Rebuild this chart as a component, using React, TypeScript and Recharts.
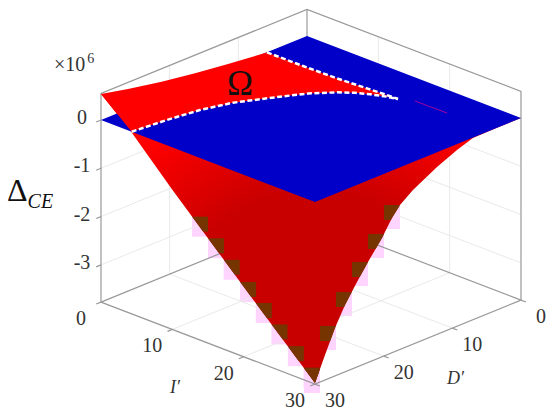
import React from 'react';
import { ScatterChart, Scatter, XAxis, YAxis } from 'recharts';

const W = 550;
const H = 417;

// axis values
const iTicks = [0, 10, 20, 30];
const dTicks = [0, 10, 20, 30];
const zTicks = [0, -1, -2, -3];
const zFloor = -3.77;
const zTop = 0.55;

// red surface along I'=0, from D'=30 to where it meets the plane
const backEdgeD = [30, 26.07, 21.16, 16.31, 11.5, 5.87];
const backEdgeZ = [0.54, 0.414, 0.28, 0.174, 0.087, 0];

// red surface along D'=30
const leftEdgeI = [0, 4.2, 10, 20, 30];
const leftEdgeZ = [0.54, 0, -0.88, -2.32, -3.75];

// red surface along I'=30
const rightEdgeD = [30, 29.27, 28.54, 27.09, 25.63, 23.88, 22.28, 20.24, 18.79, 17.62, 15.73, 12.23, 9.32, 7, 3.5, 0];
const rightEdgeZ = [-3.75, -3.5, -3.25, -2.78, -2.385, -2.01, -1.69, -1.31, -0.98, -0.78, -0.58, -0.306, -0.122, -0.01, 0, 0];

// boundary of the region where the surface is above the plane (dashed lines)
const upperBoundI = [0, 5.03, 9.65, 13.82, 16.22, 17.74];
const upperBoundD = [5.84, 5.81, 5.69, 5.4, 5.24, 5.18];
const lowerBoundI = [4.3, 4.75, 5.38, 6.47, 8.81, 10.27, 12.15, 13.54, 14.89, 16.5, 17.74];
const lowerBoundD = [30, 25.36, 21.2, 17.5, 13.08, 10.52, 8.25, 7.07, 6.29, 5.55, 5.18];

const streakI = [19.3, 23.8];
const streakD = [4.35, 4.3];

// blotches along the surface's lower edges in the reference picture
const blotchLeftI = [12.76, 15, 17.2, 19.5, 21.7, 23.9, 26.2, 28.4];
const blotchLeftZ = [-1.28, -1.6, -1.92, -2.25, -2.56, -2.88, -3.2, -3.52];
const blotchRightD = [29.27, 26.94, 24.61, 22.28, 19.95, 17.62];
const blotchRightZ = [-3.5, -2.745, -2.176, -1.69, -1.244, -0.78];

type P3 = [number, number, number];

// view projection of the 3D axes box onto the page
const project = ([i, d, z]: P3) => ({
  x: 307 + 7.133 * i - 6.867 * d,
  y: 36 + 2.733 * i + 2.8 * d - 48.3 * z,
});
const pts = (list: P3[]) => list.map(project);

const backEdge: P3[] = backEdgeD.map((d, k) => [0, d, backEdgeZ[k]]);
const leftEdge: P3[] = leftEdgeI.map((v, k) => [v, 30, leftEdgeZ[k]]);
const rightEdge: P3[] = rightEdgeD.map((d, k) => [30, d, rightEdgeZ[k]]);
const upperBound: P3[] = upperBoundI.map((v, k) => [v, upperBoundD[k], 0]);
const lowerBound: P3[] = lowerBoundI.map((v, k) => [v, lowerBoundD[k], 0]);
const streak: P3[] = streakI.map((v, k) => [v, streakD[k], 0]);
const blotchLeft = pts(blotchLeftI.map((v, k): P3 => [v, 30, blotchLeftZ[k]]));
const blotchRight = pts(blotchRightD.map((d, k): P3 => [30, d, blotchRightZ[k]]));

const plane: P3[] = [[0, 0, 0], [30, 0, 0], [30, 30, 0], [0, 30, 0], [0, 0, 0]];
const underSurface: P3[] = [...leftEdge, ...rightEdge.slice(1)];
const omega: P3[] = [...backEdge, ...upperBound, ...[...lowerBound].reverse(), backEdge[0]];

const gridLines: P3[][] = [
  ...zTicks.slice(1).map((z): P3[] => [[0, 30, z], [0, 0, z], [30, 0, z]]),
  ...[10, 20].map((d): P3[] => [[0, d, zTop], [0, d, zFloor], [30, d, zFloor]]),
  ...[10, 20].map((v): P3[] => [[v, 0, zTop], [v, 0, zFloor], [v, 30, zFloor]]),
];

const boxLines: P3[][] = [
  [[0, 30, zFloor], [0, 30, zTop], [0, 0, zTop], [30, 0, zTop], [30, 0, zFloor]],
  [[0, 0, zTop], [0, 0, zFloor]],
  [[0, 30, zFloor], [30, 30, zFloor], [30, 0, zFloor]],
  [[0, 30, zFloor], [0, 0, zFloor], [30, 0, zFloor]],
  ...zTicks.map((z): P3[] => [[0, 30, z], [0, 30.7, z]]),
  ...iTicks.map((v): P3[] => [[v, 30, zFloor], [v, 30.7, zFloor]]),
  ...dTicks.map((d): P3[] => [[30, d, zFloor], [30.7, d, zFloor]]),
];

const offsetLabels = (list: P3[], names: string[], dx: number, dy: number) =>
  list.map((p, k) => {
    const q = project(p);
    return { x: q.x + dx, y: q.y + dy, label: names[k] };
  });

const tickLabels = [
  ...offsetLabels(zTicks.map((z): P3 => [0, 30, z]), ['0', '-1', '-2', '-3'], -19, -3),
  ...offsetLabels(iTicks.map((v): P3 => [v, 30, zFloor]), ['0', '10', '20', '30'], -20, 16),
  ...offsetLabels(dTicks.map((d): P3 => [30, d, zFloor]), ['0', '10', '20', '30'], 20, 16),
];

const noPoint = () => <g />;

const Poly = ({ points, fill }: { points: P3[]; fill: string }) => (
  <Scatter
    data={pts(points)}
    dataKey="y"
    shape={noPoint}
    line={{ fill, stroke: 'none' }}
    isAnimationActive={false}
  />
);

const Stroke = ({ points, stroke, width = 1, dash }: { points: P3[]; stroke: string; width?: number; dash?: string }) => (
  <Scatter
    data={pts(points)}
    dataKey="y"
    shape={noPoint}
    line={{ fill: 'none', stroke, strokeWidth: width, strokeDasharray: dash }}
    isAnimationActive={false}
  />
);

const blockW = 16;
const LeftBlock = (fill: string, h: number, clip?: string) => (p: any) => (
  <rect x={p.cx} y={p.cy} width={blockW} height={h} fill={fill} clipPath={clip} />
);
const RightBlock = (fill: string, h: number, clip?: string) => (p: any) => (
  <rect x={p.cx - blockW} y={p.cy} width={blockW} height={h} fill={fill} clipPath={clip} />
);

const serif = '"Liberation Serif", serif';

const TickText = (p: any) => (
  <text x={p.cx} y={p.cy} textAnchor="middle" dominantBaseline="central" fontFamily={serif} fontSize={20} fill="#333">
    {p.payload.label}
  </text>
);

const Notes = (p: any) => {
  const n = p.payload;
  if (n.kind === 'scale') {
    return (
      <text x={p.cx} y={p.cy} fontFamily={serif} fontSize={20} fill="#333">
        ×10<tspan fontSize={14} dx={2} dy={-8}>6</tspan>
      </text>
    );
  }
  if (n.kind === 'delta') {
    return (
      <text x={p.cx} y={p.cy} fontFamily={serif} fontSize={32} fill="#111">
        Δ<tspan fontSize={20} fontStyle="italic" dy={7}>CE</tspan>
      </text>
    );
  }
  if (n.kind === 'omega') {
    return (
      <text x={p.cx} y={p.cy} fontFamily={serif} fontSize={35} fill="#111">
        Ω
      </text>
    );
  }
  return (
    <text x={p.cx} y={p.cy} fontFamily={serif} fontStyle="italic" fontSize={18} fill="#333">
      {n.kind}′
    </text>
  );
};

const notes = [
  { x: 54, y: 71, kind: 'scale' },
  { x: 7, y: 201, kind: 'delta' },
  { x: 227, y: 95, kind: 'omega' },
  { x: 170, y: 393, kind: 'I' },
  { x: 447, y: 384, kind: 'D' },
];

const pink = '#ffd4ff';
const brown = '#763400';

export default function App() {
  const clip = pts(underSurface).map(p => `${p.x},${p.y}`).join(' ');
  return (
    <div style={{ position: 'absolute', left: 0, top: 0, width: W, height: H, background: '#fff' }}>
      <ScatterChart width={W} height={H} margin={{ top: 0, right: 0, bottom: 0, left: 0 }}>
        <defs>
          <radialGradient id="surfaceShade" gradientUnits="userSpaceOnUse" cx={315} cy={340} r={255}>
            <stop offset="0.58" stopColor="#c80000" />
            <stop offset="1" stopColor="#ff0000" />
          </radialGradient>
          <clipPath id="surfaceClip">
            <polygon points={clip} />
          </clipPath>
        </defs>
        <XAxis type="number" dataKey="x" domain={[0, W]} hide />
        <YAxis type="number" dataKey="y" domain={[0, H]} reversed hide />

        <Scatter data={blotchLeft} dataKey="y" shape={LeftBlock(pink, 20)} isAnimationActive={false} />
        <Scatter data={blotchRight} dataKey="y" shape={RightBlock(pink, 24)} isAnimationActive={false} />

        {gridLines.map((g, k) => <Stroke key={`g${k}`} points={g} stroke="#e9e9e9" />)}
        {boxLines.map((g, k) => <Stroke key={`b${k}`} points={g} stroke="#999" width={1.2} />)}

        <Poly points={underSurface} fill="url(#surfaceShade)" />
        <Scatter data={blotchLeft} dataKey="y" shape={LeftBlock(brown, 15, 'url(#surfaceClip)')} isAnimationActive={false} />
        <Scatter data={blotchRight} dataKey="y" shape={RightBlock(brown, 15, 'url(#surfaceClip)')} isAnimationActive={false} />
        <Poly points={plane} fill="#0000c8" />
        <Poly points={omega} fill="#ff0000" />
        <Stroke points={streak} stroke="#a000a0" />
        <Stroke points={upperBound} stroke="#fff" width={2.5} dash="5 2.5" />
        <Stroke points={lowerBound} stroke="#fff" width={2.5} dash="5 2.5" />

        <Scatter data={tickLabels} dataKey="y" shape={TickText} isAnimationActive={false} />
        <Scatter data={notes} dataKey="y" shape={Notes} isAnimationActive={false} />
      </ScatterChart>
    </div>
  );
}
